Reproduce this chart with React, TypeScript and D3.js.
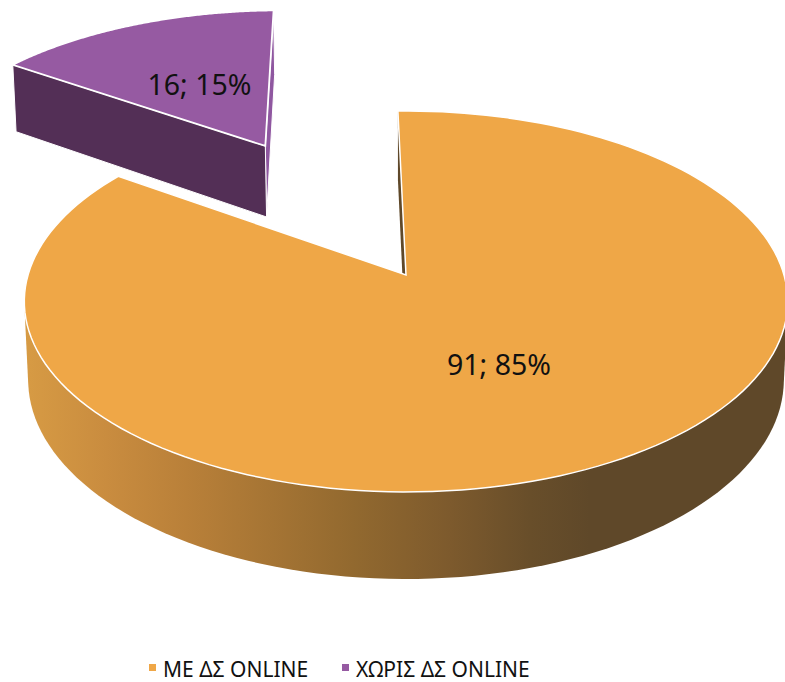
import React from "react";
import * as d3 from "d3";

const categories = ["ΜΕ ΔΣ ONLINE", "ΧΩΡΙΣ ΔΣ ONLINE"];
const values = [91, 16];
const percents = ["85%", "15%"];
const topColors = ["#EFA747", "#965AA2"];
const sideColors = ["#5F4829", "#532F56"];
const sliverColors = ["#5F4829", "#8F57A0"];
const firstSliceDeg = -1.4;
const explode = [0, 0.868];

const W = 785, H = 682;
const cx = 406, y0 = 275, A = 378, B = 186.8, D = 78, K = 0.139, M = 0.01;

type P = [number, number];
const project = (u: number, v: number, h: number): P => {
  const w = 1 - K * v + M * h;
  return [cx + (A * u) / w, y0 + (B * v + D * h) / w];
};

const startRad = (firstSliceDeg * Math.PI) / 180;
const pieGen = d3.pie<number>().sort(null).startAngle(startRad).endAngle(startRad + 2 * Math.PI);
const arcs = pieGen(values);
const line = d3.line<P>();

function slicePaths(i: number) {
  const a = arcs[i];
  const mid = (a.startAngle + a.endAngle) / 2;
  const ou = Math.sin(mid) * explode[i];
  const ov = -Math.cos(mid) * explode[i];
  const pt = (ang: number, r: number, h: number) => project(ou + r * Math.sin(ang), ov - r * Math.cos(ang), h);
  const angs = d3.range(0, 161).map((k) => a.startAngle + ((a.endAngle - a.startAngle) * k) / 160);
  const topArc = angs.map((t) => pt(t, 1, 0));
  const botArc = angs.map((t) => pt(t, 1, 1));
  const apexT = pt(0, 0, 0);
  const apexB = pt(0, 0, 1);
  const frontAngs = angs.filter((t) => t >= Math.PI / 2 && t <= (3 * Math.PI) / 2);
  const hull = d3.polygonHull(frontAngs.flatMap((t) => [pt(t, 1, 0), pt(t, 1, 1)]));
  return {
    top: line([apexT, ...topArc]) + "Z",
    wall: hull ? line(hull) + "Z" : "",
    startFace: line([apexT, topArc[0], botArc[0], apexB]) + "Z",
    endFace: line([apexT, topArc[160], botArc[160], apexB]) + "Z",
  };
}

const orange = slicePaths(0);
const purple = slicePaths(1);

const gradX = d3.scaleLinear().domain([24, 590]).range([0, 1]);
const wallStops: [number, string][] = [
  [24, "#D79B44"],
  [107, "#C98C3F"],
  [187, "#B98039"],
  [353, "#92692F"],
  [450, "#7D5A2D"],
  [530, "#684E2A"],
  [590, "#5F4829"],
];

const labels = values.map((v, i) => `${v}; ${percents[i]}`);
const labelPos: P[] = [[499, 375], [199.5, 94.5]];
const legendPos: { sx: number; tx: number }[] = [{ sx: 149, tx: 163 }, { sx: 342, tx: 356 }];
const font = "'Noto Sans', sans-serif";

export default function App() {
  return (
    <svg width={W} height={H} viewBox={`0 0 ${W} ${H}`} style={{ position: "absolute", left: 0, top: 0, background: "#fff" }} fontFamily={font}>
      <defs>
        <linearGradient id="wallGrad" gradientUnits="userSpaceOnUse" x1={24} x2={590} y1={0} y2={0}>
          {wallStops.map(([x, c]) => <stop key={x} offset={gradX(x)} stopColor={c} />)}
        </linearGradient>
      </defs>
      {/* purple exploded slice */}
      <path d={purple.endFace} fill={sliverColors[1]} stroke="#fff" strokeWidth={1} />
      <path d={purple.startFace} fill={sideColors[1]} stroke="#fff" strokeWidth={1} />
      <path d={purple.top} fill={topColors[1]} stroke="#fff" strokeWidth={1.8} />
      {/* orange slice */}
      <path d={orange.startFace} fill={sliverColors[0]} />
      <path d={orange.wall} fill="url(#wallGrad)" />
      <path d={orange.top} fill={topColors[0]} stroke="#fff" strokeWidth={1.5} />
      {labels.map((t, i) => (
        <text key={t} x={labelPos[i][0]} y={labelPos[i][1]} textAnchor="middle" fontSize={28.5} fill="#111">{t}</text>
      ))}
      {categories.map((c, i) => (
        <g key={c}>
          <rect x={legendPos[i].sx} y={664} width={7} height={7} fill={topColors[i]} />
          <text x={legendPos[i].tx} y={677} fontSize={21} fill="#111">{c}</text>
        </g>
      ))}
    </svg>
  );
}
